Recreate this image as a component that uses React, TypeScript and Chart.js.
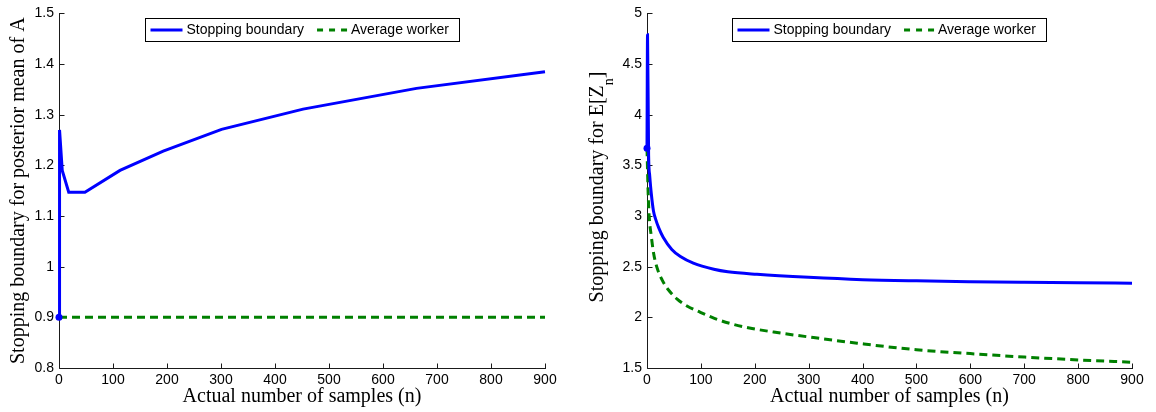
import React, { useEffect, useRef } from "react";
import { Chart, registerables } from "chart.js";

Chart.register(...registerables);

// ---------- texts ----------
const legendLabels = ["Stopping boundary", "Average worker"];
const xAxisTitle = "Actual number of samples (n)";
const leftYAxisTitle = "Stopping boundary for posterior mean of A";
const rightYAxisTitleMain = "Stopping boundary for E[Z";
const rightYAxisTitleSub = "n";
const rightYAxisTitleEnd = "]";

// ---------- ticks ----------
const xTickValues = [0, 100, 200, 300, 400, 500, 600, 700, 800, 900];
const xTickLabels = ["0", "100", "200", "300", "400", "500", "600", "700", "800", "900"];
const leftYTickValues = [0.8, 0.9, 1.0, 1.1, 1.2, 1.3, 1.4, 1.5];
const leftYTickLabels = ["0.8", "0.9", "1", "1.1", "1.2", "1.3", "1.4", "1.5"];
const rightYTickValues = [1.5, 2, 2.5, 3, 3.5, 4, 4.5, 5];
const rightYTickLabels = ["1.5", "2", "2.5", "3", "3.5", "4", "4.5", "5"];

// ---------- left panel data ----------
const leftBoundaryN = [0, 1, 6, 18, 48, 113, 193, 301, 452, 662, 900];
const leftBoundaryValues = [0.9, 1.27, 1.19, 1.147, 1.147, 1.19, 1.228, 1.271, 1.311, 1.352, 1.385];
const leftWorkerN = [0, 900];
const leftWorkerValues = [0.9, 0.9];

// ---------- right panel data ----------
const rightBoundaryN = [0, 1, 3, 5, 8, 12, 16, 22, 30, 46, 62, 86, 124, 150, 204, 300, 400, 500, 600, 700, 800, 900];
const rightBoundaryValues = [3.67, 4.79, 3.6, 3.4, 3.22, 3.05, 2.97, 2.88, 2.79, 2.67, 2.6, 2.535, 2.475, 2.45, 2.425, 2.395, 2.372, 2.36, 2.352, 2.346, 2.341, 2.337];
const rightWorkerN = [0, 1, 2, 4, 8, 12, 18, 28, 40, 56, 75, 99, 125, 154, 190, 235, 309, 390, 500, 600, 700, 800, 900];
const rightWorkerValues = [3.67, 3.45, 3.25, 3.0, 2.8, 2.64, 2.5, 2.37, 2.27, 2.18, 2.11, 2.05, 1.99, 1.94, 1.895, 1.855, 1.8, 1.745, 1.68, 1.642, 1.608, 1.58, 1.557];

// ---------- styles ----------
const BLUE = "#0000ff";
const GREEN = "#008000";
const AXIS = "#1a1a1a";
const SANS = '"Liberation Sans", Arial, sans-serif';
const SERIF = '"Liberation Serif", "Times New Roman", serif';
const DASH = [8, 5];
const LINE_W = 3;

function zip(xs: number[], ys: number[]) {
  return xs.map((x, i) => ({ x, y: ys[i] }));
}

const axesPlugin = {
  id: "matlabAxes",
  beforeDatasetsDraw(chart: any) {
    const { ctx, chartArea } = chart;
    const xs = chart.scales.x;
    const ys = chart.scales.y;
    const left = Math.round(chartArea.left) + 0.5;
    const bottom = Math.round(chartArea.bottom) + 0.5;
    ctx.save();
    ctx.strokeStyle = AXIS;
    ctx.lineWidth = 1;
    ctx.beginPath();
    ctx.moveTo(left, Math.round(chartArea.top));
    ctx.lineTo(left, bottom);
    ctx.lineTo(Math.round(chartArea.right) + 1, bottom);
    for (const t of xs.ticks) {
      const px = Math.round(xs.getPixelForValue(t.value)) + 0.5;
      ctx.moveTo(px, bottom);
      ctx.lineTo(px, bottom - 5);
    }
    for (const t of ys.ticks) {
      const py = Math.round(ys.getPixelForValue(t.value)) + 0.5;
      ctx.moveTo(left, py);
      ctx.lineTo(left + 5, py);
    }
    ctx.stroke();
    ctx.restore();
  },
};

const boxLegendPlugin = {
  id: "boxLegend",
  afterDraw(chart: any) {
    const { ctx, chartArea } = chart;
    const ds = chart.data.datasets;
    ctx.save();
    ctx.font = "14px " + SANS;
    const w1 = ctx.measureText(ds[0].label).width;
    const w2 = ctx.measureText(ds[1].label).width;
    const total = 5 + 32 + 4 + w1 + 13 + 30 + 4 + w2 + 11;
    const cx = (chartArea.left + chartArea.right) / 2;
    const left = Math.round(cx - total / 2) + 0.5;
    const top = 18.5;
    const h = 23;
    ctx.fillStyle = "#fff";
    ctx.fillRect(left, top, total, h);
    ctx.strokeStyle = "#000";
    ctx.lineWidth = 1;
    ctx.strokeRect(left, top, Math.round(total), h);
    const my = top + h / 2;
    let x = left + 5;
    ctx.strokeStyle = ds[0].borderColor;
    ctx.lineWidth = ds[0].borderWidth;
    ctx.beginPath();
    ctx.moveTo(x, my);
    ctx.lineTo(x + 32, my);
    ctx.stroke();
    x += 36;
    ctx.fillStyle = "#000";
    ctx.textBaseline = "middle";
    ctx.textAlign = "left";
    ctx.fillText(ds[0].label, x, my);
    x += w1 + 13;
    ctx.strokeStyle = ds[1].borderColor;
    ctx.lineWidth = ds[1].borderWidth;
    ctx.setLineDash([6, 6]);
    ctx.beginPath();
    ctx.moveTo(x, my);
    ctx.lineTo(x + 30, my);
    ctx.stroke();
    ctx.setLineDash([]);
    x += 34;
    ctx.fillText(ds[1].label, x, my);
    ctx.restore();
  },
};

const rightTitlePlugin = {
  id: "rightYTitle",
  afterDraw(chart: any) {
    const { ctx } = chart;
    const mainFont = "20px " + SERIF;
    const subFont = "14px " + SERIF;
    ctx.save();
    ctx.translate(20, 187);
    ctx.rotate(-Math.PI / 2);
    ctx.fillStyle = "#000";
    ctx.textBaseline = "middle";
    ctx.textAlign = "left";
    ctx.font = mainFont;
    const w1 = ctx.measureText(rightYAxisTitleMain).width;
    const w3 = ctx.measureText(rightYAxisTitleEnd).width;
    ctx.font = subFont;
    const w2 = ctx.measureText(rightYAxisTitleSub).width;
    let x = -(w1 + w2 + w3) / 2;
    ctx.font = mainFont;
    ctx.fillText(rightYAxisTitleMain, x, 0);
    x += w1;
    ctx.font = subFont;
    ctx.fillText(rightYAxisTitleSub, x, 11);
    x += w2;
    ctx.font = mainFont;
    ctx.fillText(rightYAxisTitleEnd, x, 0);
    ctx.restore();
  },
};

function makeConfig(p: {
  boundary: { x: number; y: number }[];
  worker: { x: number; y: number }[];
  yMin: number;
  yMax: number;
  yTicks: number[];
  yLabels: string[];
  yWidth: number;
  padRight: number;
  yTitle: string | null;
  smooth: boolean;
  extraPlugins: any[];
}): any {
  return {
    type: "line",
    data: {
      datasets: [
        {
          label: legendLabels[0],
          data: p.boundary,
          borderColor: BLUE,
          backgroundColor: BLUE,
          borderWidth: LINE_W,
          pointRadius: (c: any) => (c.dataIndex === 0 ? 3.5 : 0),
          pointBackgroundColor: BLUE,
          pointBorderWidth: 0,
          pointHoverRadius: 0,
          tension: 0,
          cubicInterpolationMode: p.smooth ? "monotone" : "default",
          fill: false,
          clip: false,
        },
        {
          label: legendLabels[1],
          data: p.worker,
          borderColor: GREEN,
          backgroundColor: GREEN,
          borderWidth: LINE_W,
          borderDash: DASH,
          pointRadius: 0,
          tension: 0,
          cubicInterpolationMode: p.smooth ? "monotone" : "default",
          fill: false,
          clip: false,
        },
      ],
    },
    options: {
      animation: false,
      responsive: false,
      maintainAspectRatio: false,
      devicePixelRatio: 1,
      events: [],
      layout: { padding: { left: 0, right: p.padRight, top: 12, bottom: 0 } },
      plugins: { legend: { display: false }, tooltip: { enabled: false } },
      scales: {
        x: {
          type: "linear",
          min: 0,
          max: 900,
          afterBuildTicks: (s: any) => {
            s.ticks = xTickValues.map((v) => ({ value: v }));
          },
          afterFit: (s: any) => {
            s.height = 44;
          },
          grid: { display: false, drawTicks: false },
          border: { display: false },
          ticks: {
            autoSkip: false,
            maxRotation: 0,
            padding: 4,
            color: "#000",
            font: { family: SANS, size: 14 },
            callback: (_v: any, i: number) => xTickLabels[i],
          },
          title: {
            display: true,
            text: xAxisTitle,
            color: "#000",
            font: { family: SERIF, size: 20 },
            padding: { top: 0, bottom: 3 },
          },
        },
        y: {
          type: "linear",
          min: p.yMin,
          max: p.yMax,
          afterBuildTicks: (s: any) => {
            s.ticks = p.yTicks.map((v) => ({ value: v }));
          },
          afterFit: (s: any) => {
            s.width = p.yWidth;
          },
          grid: { display: false, drawTicks: false },
          border: { display: false },
          ticks: {
            autoSkip: false,
            padding: 5,
            color: "#000",
            font: { family: SANS, size: 14 },
            callback: (_v: any, i: number) => p.yLabels[i],
          },
          title: {
            display: !!p.yTitle,
            text: p.yTitle || "",
            color: "#000",
            font: { family: SERIF, size: 20 },
            padding: { top: 7, bottom: 0 },
          },
        },
      },
    },
    plugins: [axesPlugin, boxLegendPlugin, ...p.extraPlugins],
  };
}

export default function App() {
  const leftRef = useRef<HTMLCanvasElement>(null);
  const rightRef = useRef<HTMLCanvasElement>(null);

  useEffect(() => {
    const c1 = new Chart(
      leftRef.current as HTMLCanvasElement,
      makeConfig({
        boundary: zip(leftBoundaryN, leftBoundaryValues),
        worker: zip(leftWorkerN, leftWorkerValues),
        yMin: 0.8,
        yMax: 1.5,
        yTicks: leftYTickValues,
        yLabels: leftYTickLabels,
        yWidth: 59,
        padRight: 33,
        yTitle: leftYAxisTitle,
        smooth: false,
        extraPlugins: [],
      })
    );
    const c2 = new Chart(
      rightRef.current as HTMLCanvasElement,
      makeConfig({
        boundary: zip(rightBoundaryN, rightBoundaryValues),
        worker: zip(rightWorkerN, rightWorkerValues),
        yMin: 1.5,
        yMax: 5,
        yTicks: rightYTickValues,
        yLabels: rightYTickLabels,
        yWidth: 69,
        padRight: 24,
        yTitle: null,
        smooth: true,
        extraPlugins: [rightTitlePlugin],
      })
    );
    return () => {
      c1.destroy();
      c2.destroy();
    };
  }, []);

  return (
    <div style={{ position: "fixed", left: 0, top: 0, width: 1156, height: 412, background: "#fff" }}>
      <canvas
        ref={leftRef}
        width={578}
        height={412}
        style={{ position: "absolute", left: 0, top: 0, width: 578, height: 412 }}
      />
      <canvas
        ref={rightRef}
        width={578}
        height={412}
        style={{ position: "absolute", left: 578, top: 0, width: 578, height: 412 }}
      />
    </div>
  );
}
